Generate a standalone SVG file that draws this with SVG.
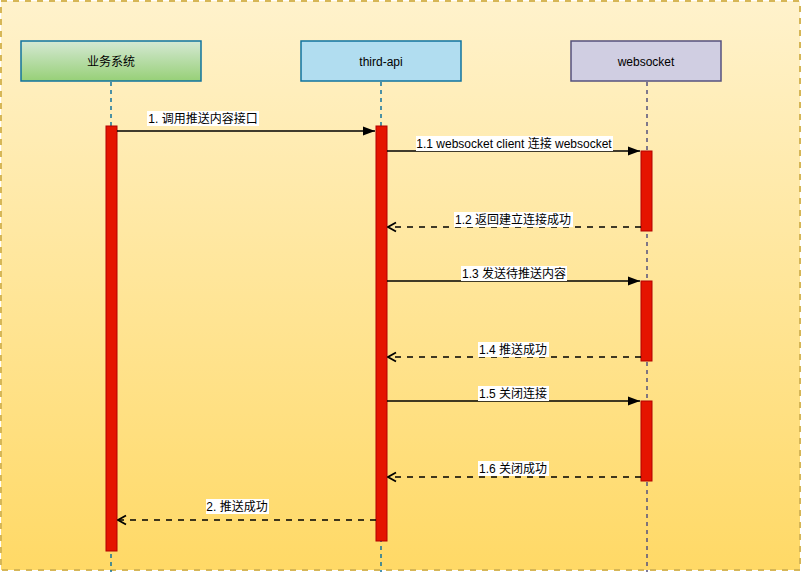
<svg xmlns="http://www.w3.org/2000/svg" width="802" height="572" viewBox="0 0 802 572">
<defs>
<linearGradient id="bg" x1="0" y1="0" x2="0" y2="1"><stop offset="0" stop-color="#fff2cc"/><stop offset="1" stop-color="#ffd966"/></linearGradient>
<linearGradient id="gr" x1="0" y1="0" x2="0" y2="1"><stop offset="0" stop-color="#d5e8d4"/><stop offset="1" stop-color="#97d077"/></linearGradient>
<marker id="fill" viewBox="0 0 12 12" refX="12" refY="6" markerWidth="12" markerHeight="12" markerUnits="userSpaceOnUse" orient="auto"><path d="M0,1.5 L12,6 L0,10.5 Z" fill="#000"/></marker>
<marker id="open" viewBox="0 0 12 12" refX="11" refY="6" markerWidth="12" markerHeight="12" markerUnits="userSpaceOnUse" orient="auto"><path d="M3,1.5 L11,6 L3,10.5" fill="none" stroke="#000" stroke-width="1.8"/></marker>
</defs>
<style>
text{font-family:"Liberation Sans","Noto Sans CJK SC",sans-serif;font-size:12px;fill:#000;text-anchor:middle}
.life{stroke-width:1.5;stroke-dasharray:4 4;fill:none}
.act{fill:#e51400;stroke:#b20000;stroke-width:1}
.msg{stroke:#000;stroke-width:1.5;fill:none}
.ret{stroke:#000;stroke-width:1.5;fill:none;stroke-dasharray:6 6}
.lb{fill:#fff}
</style>
<rect x="1" y="1" width="799" height="569" fill="url(#bg)" stroke="#d6b656" stroke-width="2" stroke-dasharray="6 6"/>
<g id="lifelines">
<line class="life" x1="111" y1="82" x2="111" y2="572" stroke="#10739e"/>
<line class="life" x1="381" y1="82" x2="381" y2="572" stroke="#10739e"/>
<line class="life" x1="647" y1="82" x2="647" y2="572" stroke="#56517e"/>
</g>
<g id="node-biz">
<rect x="21" y="41" width="180" height="40" fill="url(#gr)" stroke="#10739e" stroke-width="1.5"/>
<text x="111" y="66">业务系统</text>
</g>
<g id="node-third">
<rect x="301" y="41" width="160" height="40" fill="#b1ddf0" stroke="#10739e" stroke-width="1.5"/>
<text x="381" y="66">third-api</text>
</g>
<g id="node-ws">
<rect x="571" y="41" width="150" height="40" fill="#d0cee2" stroke="#56517e" stroke-width="1.5"/>
<text x="646" y="66">websocket</text>
</g>
<g id="activations">
<rect class="act" x="106" y="126" width="11" height="425"/>
<rect class="act" x="376" y="126" width="11" height="415"/>
<rect class="act" x="641" y="151" width="11" height="80"/>
<rect class="act" x="641" y="281" width="11" height="80"/>
<rect class="act" x="641" y="401" width="11" height="80"/>
</g>
<g id="connectors">
<line class="msg" x1="117" y1="131" x2="375" y2="131" marker-end="url(#fill)"/>
<line class="msg" x1="387" y1="151" x2="640" y2="151" marker-end="url(#fill)"/>
<line class="ret" x1="641" y1="227" x2="388" y2="227" marker-end="url(#open)"/>
<line class="msg" x1="387" y1="281" x2="640" y2="281" marker-end="url(#fill)"/>
<line class="ret" x1="641" y1="357" x2="388" y2="357" marker-end="url(#open)"/>
<line class="msg" x1="387" y1="401" x2="640" y2="401" marker-end="url(#fill)"/>
<line class="ret" x1="641" y1="477" x2="388" y2="477" marker-end="url(#open)"/>
<line class="ret" x1="376" y1="520" x2="118" y2="520" marker-end="url(#open)"/>
<rect class="lb" x="147" y="111" width="112" height="15"/>
<text x="203" y="123">1. 调用推送内容接口</text>
<rect class="lb" x="416" y="136" width="197" height="15"/>
<text x="514" y="148">1.1 websocket client 连接 websocket</text>
<rect class="lb" x="454" y="212" width="119" height="15"/>
<text x="513" y="224">1.2 返回建立连接成功</text>
<rect class="lb" x="461" y="266" width="106" height="15"/>
<text x="514" y="278">1.3 发送待推送内容</text>
<rect class="lb" x="478" y="342" width="71" height="15"/>
<text x="513" y="354">1.4 推送成功</text>
<rect class="lb" x="478" y="386" width="71" height="15"/>
<text x="513" y="398">1.5 关闭连接</text>
<rect class="lb" x="478" y="461" width="71" height="15"/>
<text x="513" y="473">1.6 关闭成功</text>
<rect class="lb" x="206" y="499" width="63" height="15"/>
<text x="237" y="511">2. 推送成功</text>
</g>
</svg>
